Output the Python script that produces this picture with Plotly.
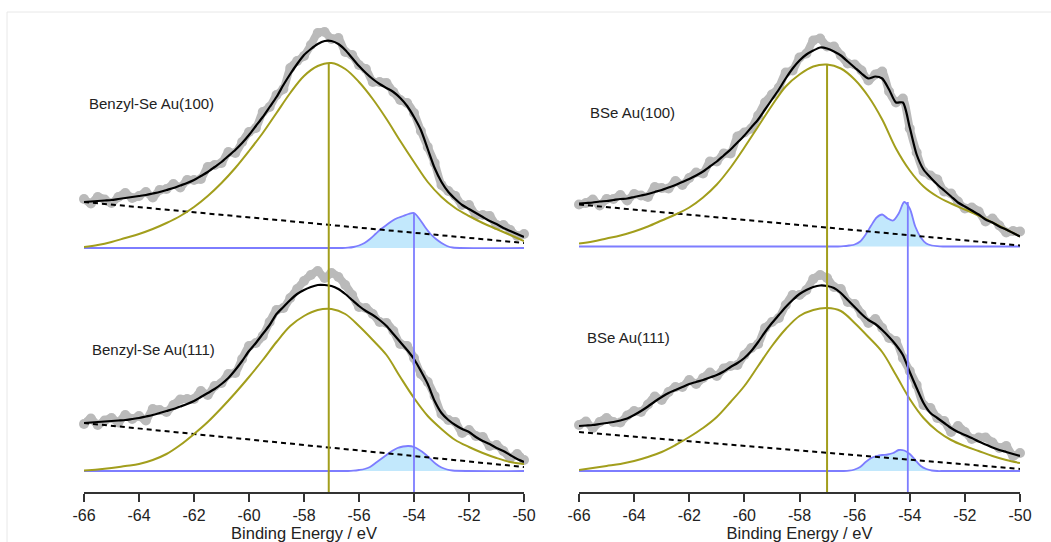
import plotly.graph_objects as go

# ---------------- data ----------------
energy_fit = [-66.0, -65.75, -65.5, -65.25, -65.0, -64.75, -64.5, -64.25, -64.0, -63.75,
              -63.5, -63.25, -63.0, -62.75, -62.5, -62.25, -62.0, -61.75, -61.5, -61.25,
              -61.0, -60.75, -60.5, -60.25, -60.0, -59.75, -59.5, -59.25, -59.0, -58.75,
              -58.5, -58.25, -58.0, -57.75, -57.5, -57.25, -57.0, -56.75, -56.5, -56.25,
              -56.0, -55.75, -55.5, -55.25, -55.0, -54.75, -54.5, -54.25, -54.0, -53.75,
              -53.5, -53.25, -53.0, -52.75, -52.5, -52.25, -52.0, -51.75, -51.5, -51.25,
              -51.0, -50.75, -50.5, -50.25, -50.0]
energy_comp = [-66.0, -65.5, -65.0, -64.5, -64.0, -63.5, -63.0, -62.5, -62.0, -61.5, -61.0,
               -60.5, -60.0, -59.5, -59.0, -58.5, -58.0, -57.5, -57.0, -56.5, -56.0, -55.5,
               -55.0, -54.5, -54.0, -53.5, -53.0, -52.5, -52.0, -51.5, -51.0, -50.5, -50.0]
energy_se = [-66.0, -56.6, -56.4, -56.2, -56.0, -55.8, -55.6, -55.4, -55.2, -55.0, -54.8,
             -54.6, -54.4, -54.2, -54.0, -53.8, -53.6, -53.4, -53.2, -53.0, -52.8, -52.6, -50.0]
energy_bg = [-66.0, -50.0]
x_ticks = [-66, -64, -62, -60, -58, -56, -54, -52, -50]

# Benzyl-Se Au(100)
tl_data = [49, 44.5, 51, 48.5, 45, 51, 55, 50, 52, 56, 50.5, 58, 59, 64, 60.5, 68, 68, 69, 81, 83,
           85, 96, 95, 106, 116, 120, 136, 141, 153, 159, 180, 187, 192, 203, 215, 216, 209, 210, 196, 193,
           183, 179, 166, 166, 165, 156, 148, 145, 135, 117, 101, 85, 63, 57, 52, 43, 43, 33, 33, 32,
           23, 23, 18, 12, 14]
tl_fit = [46, 46.5, 47, 47.5, 48, 49, 50, 51, 52, 53, 54.5, 56, 58, 60, 62.5, 65, 68, 72, 76, 81,
          86, 92, 98, 105, 113, 122, 131, 141, 151, 163, 174, 184, 193, 199, 204, 207, 207, 204, 198, 190,
          182, 175, 169, 164, 160, 156, 150, 142, 131, 118, 99, 80, 66, 56, 49, 43, 39, 35, 31, 27,
          24, 20, 17, 14, 11]
tl_main = [1, 3, 6, 10, 14, 19, 25, 32, 41, 52, 65, 80, 97, 115, 135, 155, 172, 182, 185, 179,
           166, 149, 129, 107, 86, 66, 51, 40, 32, 25, 19, 13, 7]
tl_se = [0, 0, 0.3, 1, 2.5, 5, 9, 14, 19, 23, 27, 30, 32, 34, 35, 29, 21, 14, 9, 5, 2, 0.5, 0]
tl_bg = [46, 5]

# BSe Au(100)
tr_data = [42, 43.5, 47, 41, 47.5, 47.5, 51.5, 46, 52.5, 51, 49.5, 59.5, 58.5, 58, 65.5, 61.5, 68.5, 74, 73, 85,
           85, 93, 93, 110, 114, 118, 131, 144, 152, 159, 174, 176, 189, 193, 206, 208, 200, 200, 191, 183,
           182, 176, 166, 172, 175, 155, 144, 148, 118, 94, 75, 71, 67, 55, 53, 45, 38, 39, 35, 25,
           28, 21, 14, 15.5, 15]
tr_fit = [43, 43.5, 44, 45, 45.5, 46.5, 47.5, 48, 49.5, 51, 52.5, 54.5, 56.5, 59, 61.5, 64.5, 67.5, 71, 75, 80,
          85, 91, 97, 104, 111, 119, 127, 137, 147, 157, 168, 178, 186, 192, 196, 199, 198, 195, 191, 185,
          179, 173, 168, 170, 168, 157, 144, 144, 119, 92, 77, 69, 62, 56, 50, 44, 40, 36, 32, 27,
          24, 20, 17, 13.5, 10]
tr_main = [3, 5, 8, 11, 15, 20, 26, 32, 39, 49, 62, 79, 99, 120, 141, 160, 172, 180, 182, 178,
           167, 150, 127, 98, 76, 60, 50, 43, 37, 31, 24, 17, 10]
tr_se = [0, 0, 0.3, 1, 2, 5, 12, 21, 29, 32, 28, 26, 33, 44.5, 38, 20, 9, 3, 1, 0.3, 0, 0, 0]
tr_bg = [42, 1]

# Benzyl-Se Au(111)
bl_data = [47, 52.5, 46, 50.5, 53, 48.5, 56, 52, 55, 50.5, 62, 61, 59, 66, 71.5, 72, 72, 80, 76, 85,
           88, 97, 98, 112, 125, 128, 135, 149, 161, 163, 173, 182, 190, 196, 200, 193, 198, 194, 186, 176,
           164, 163, 157, 149, 148, 140, 127, 125, 113, 97, 89, 75, 57, 51, 49, 38, 41, 35, 34, 25,
           26, 20, 13, 17, 11]
bl_fit = [48, 48.5, 49, 49.5, 50, 50.5, 51, 52, 53, 54.5, 56, 58, 60, 62, 64.5, 67, 70, 74, 78, 82,
          87, 93, 101, 110, 120, 128, 137, 146, 157, 164, 171, 177, 181, 184, 186, 186, 185, 182, 177, 171,
          165, 160, 156, 151, 145, 137, 129, 121, 112, 100, 87, 70, 58, 51, 46, 42, 39, 34, 30, 27,
          23, 20, 16, 12, 9]
bl_main = [0.5, 1.5, 3, 5, 7, 11, 17, 26, 37, 49, 63, 78, 94, 111, 129, 145, 155, 161, 162, 157,
           145, 131, 116, 94, 73, 55, 42, 31, 24, 18, 13, 9, 7]
bl_se = [0, 0, 0, 0.3, 1, 2, 4, 8, 12, 16, 20, 23, 24.5, 25, 24, 21, 17, 12, 7, 3.5, 1.5, 0.5, 0]
bl_bg = [48, 4]

# BSe Au(111)
br_data = [46, 49.5, 43, 49, 53, 49, 48.5, 55.5, 60, 59, 66.5, 74.5, 71, 79, 84, 84, 91, 87, 93, 98.5,
           95, 102.5, 105, 106, 116, 123, 127, 143, 149, 153, 166, 176, 176, 181, 192, 196, 193, 184, 182, 169,
           167, 157, 148, 152, 143, 133, 130, 113, 100, 86, 66, 63, 53, 50, 39, 45, 39, 32, 33.5, 33.5,
           28.5, 23, 25, 15, 18]
br_fit = [45, 45.5, 46, 47, 48, 49, 50.5, 52.5, 56, 60, 64.5, 69.5, 74, 78, 81, 84, 87, 89, 91, 93.5,
          96, 99.5, 104, 108, 113, 120, 129, 139, 148, 156, 164, 171, 177, 181, 184, 185.5, 185, 183, 178, 171,
          164, 157, 151, 147, 141, 134, 126, 116, 99, 83, 68, 58, 53, 48, 43, 39, 36, 33, 29.5, 26.5,
          23.5, 21, 19, 17, 15]
br_main = [1, 3, 5, 7, 10, 14, 19, 26, 34, 43, 54, 69, 85, 105, 125, 142, 155, 161, 163, 160,
           148, 134, 119, 96, 72, 53, 40, 31, 25, 20, 15, 11, 8]
br_se = [0, 0, 0, 0.3, 1.5, 4, 9, 13, 15, 16, 16.5, 18, 21, 20.5, 17, 11, 5, 2, 0.5, 0, 0, 0, 0]
br_bg = [39, 2]

# component centre positions (eV)
left_main_pos, left_se_pos = -57.1, -54.0
right_main_pos, right_se_pos = -57.0, -54.07

labels = ["Benzyl-Se Au(100)", "BSe Au(100)", "Benzyl-Se Au(111)", "BSe Au(111)"]

# ---------------- styling / layout ----------------
W, H = 1051, 542
M_T, M_B = 10, 50
Y_RANGE = [-21, 461]
OFF_LEFT_TOP, OFF_RIGHT_TOP = 223, 224.5
C_DATA = "#bababa"
C_FIT = "#000000"
C_MAIN = "#a29e1c"
C_SE = "#7d7dff"
C_SE_FILL = "#c2e8fc"
FONT = "Liberation Sans, Arial, Helvetica, sans-serif"

fig = go.Figure()


def add_panel(xa, ya, off, data, fit, main, se, bg):
    fig.add_trace(go.Scatter(x=energy_fit, y=[v + off for v in data], mode="lines+markers",
                             line=dict(color=C_DATA, width=8, shape="spline", smoothing=0.6),
                             marker=dict(color=C_DATA, size=10), cliponaxis=False,
                             xaxis=xa, yaxis=ya, hoverinfo="skip"))
    fig.add_trace(go.Scatter(x=energy_se, y=[v + off for v in se], mode="lines",
                             line=dict(color=C_SE, width=1.8, shape="spline", smoothing=0.8),
                             fill="toself", fillcolor=C_SE_FILL,
                             xaxis=xa, yaxis=ya, hoverinfo="skip"))
    fig.add_trace(go.Scatter(x=energy_bg, y=[v + off for v in bg], mode="lines",
                             line=dict(color="#000000", width=2, dash="5px,4px"),
                             xaxis=xa, yaxis=ya, hoverinfo="skip"))
    fig.add_trace(go.Scatter(x=energy_comp, y=[v + off for v in main], mode="lines",
                             line=dict(color=C_MAIN, width=2, shape="spline", smoothing=1),
                             xaxis=xa, yaxis=ya, hoverinfo="skip"))
    fig.add_trace(go.Scatter(x=energy_fit, y=[v + off for v in fit], mode="lines",
                             line=dict(color=C_FIT, width=2.2, shape="spline", smoothing=0.7),
                             xaxis=xa, yaxis=ya, hoverinfo="skip"))


def add_markers(xa, ya, off_top, main_pos, se_pos, top_main, top_se):
    fig.add_trace(go.Scatter(x=[main_pos, main_pos], y=[Y_RANGE[0], off_top + max(top_main)],
                             mode="lines", line=dict(color=C_MAIN, width=2),
                             xaxis=xa, yaxis=ya, hoverinfo="skip", cliponaxis=False))
    fig.add_trace(go.Scatter(x=[se_pos, se_pos], y=[Y_RANGE[0], off_top + max(top_se)],
                             mode="lines", line=dict(color=C_SE, width=1.8),
                             xaxis=xa, yaxis=ya, hoverinfo="skip", cliponaxis=False))


add_panel("x", "y", 0, bl_data, bl_fit, bl_main, bl_se, bl_bg)
add_panel("x", "y", OFF_LEFT_TOP, tl_data, tl_fit, tl_main, tl_se, tl_bg)
add_markers("x", "y", OFF_LEFT_TOP, left_main_pos, left_se_pos, tl_main, tl_se)
add_panel("x2", "y2", 0, br_data, br_fit, br_main, br_se, br_bg)
add_panel("x2", "y2", OFF_RIGHT_TOP, tr_data, tr_fit, tr_main, tr_se, tr_bg)
add_markers("x2", "y2", OFF_RIGHT_TOP, right_main_pos, right_se_pos, tr_main, tr_se)


def px_x(px):
    return px / W


def px_y(py):
    return (H - M_B - py) / (H - M_T - M_B)


xaxis_common = dict(range=[-66, -50], tickvals=x_ticks, ticktext=[str(t) for t in x_ticks],
                    ticks="outside", ticklen=8, tickwidth=1.5, tickcolor="#333333",
                    showline=True, linecolor="#333333", linewidth=1.5,
                    showgrid=False, zeroline=False, automargin=False,
                    tickfont=dict(family=FONT, size=16, color="#222222"),
                    title=dict(text="Binding Energy / eV", font=dict(family=FONT, size=16.5, color="#222222"),
                               standoff=8))
yaxis_common = dict(range=Y_RANGE, visible=False, showgrid=False, zeroline=False, automargin=False)

fig.update_layout(
    width=W, height=H, autosize=False,
    margin=dict(l=0, r=0, t=M_T, b=M_B, pad=0, autoexpand=False),
    paper_bgcolor="white", plot_bgcolor="white",
    showlegend=False,
    xaxis=dict(domain=[px_x(84), px_x(524)], anchor="y", **xaxis_common),
    xaxis2=dict(domain=[px_x(579), px_x(1020)], anchor="y2", **xaxis_common),
    yaxis=dict(domain=[0, 1], anchor="x", **yaxis_common),
    yaxis2=dict(domain=[0, 1], anchor="x2", **yaxis_common),
)

label_pos = [(87, 104), (588, 112), (90, 350), (585, 337)]
for text, (lx, ly) in zip(labels, label_pos):
    fig.add_annotation(text=text, xref="paper", yref="paper", x=px_x(lx), y=px_y(ly),
                       xanchor="left", yanchor="middle", showarrow=False,
                       font=dict(family=FONT, size=15, color="#222222"))

# faint outer frame
fig.add_shape(type="line", xref="paper", yref="paper", x0=px_x(7), x1=1.0, y0=px_y(12), y1=px_y(12),
              line=dict(color="#e8e8e8", width=1))
fig.add_shape(type="line", xref="paper", yref="paper", x0=px_x(7), x1=px_x(7), y0=px_y(12), y1=px_y(542),
              line=dict(color="#e8e8e8", width=1))

fig.write_html("out.html")
